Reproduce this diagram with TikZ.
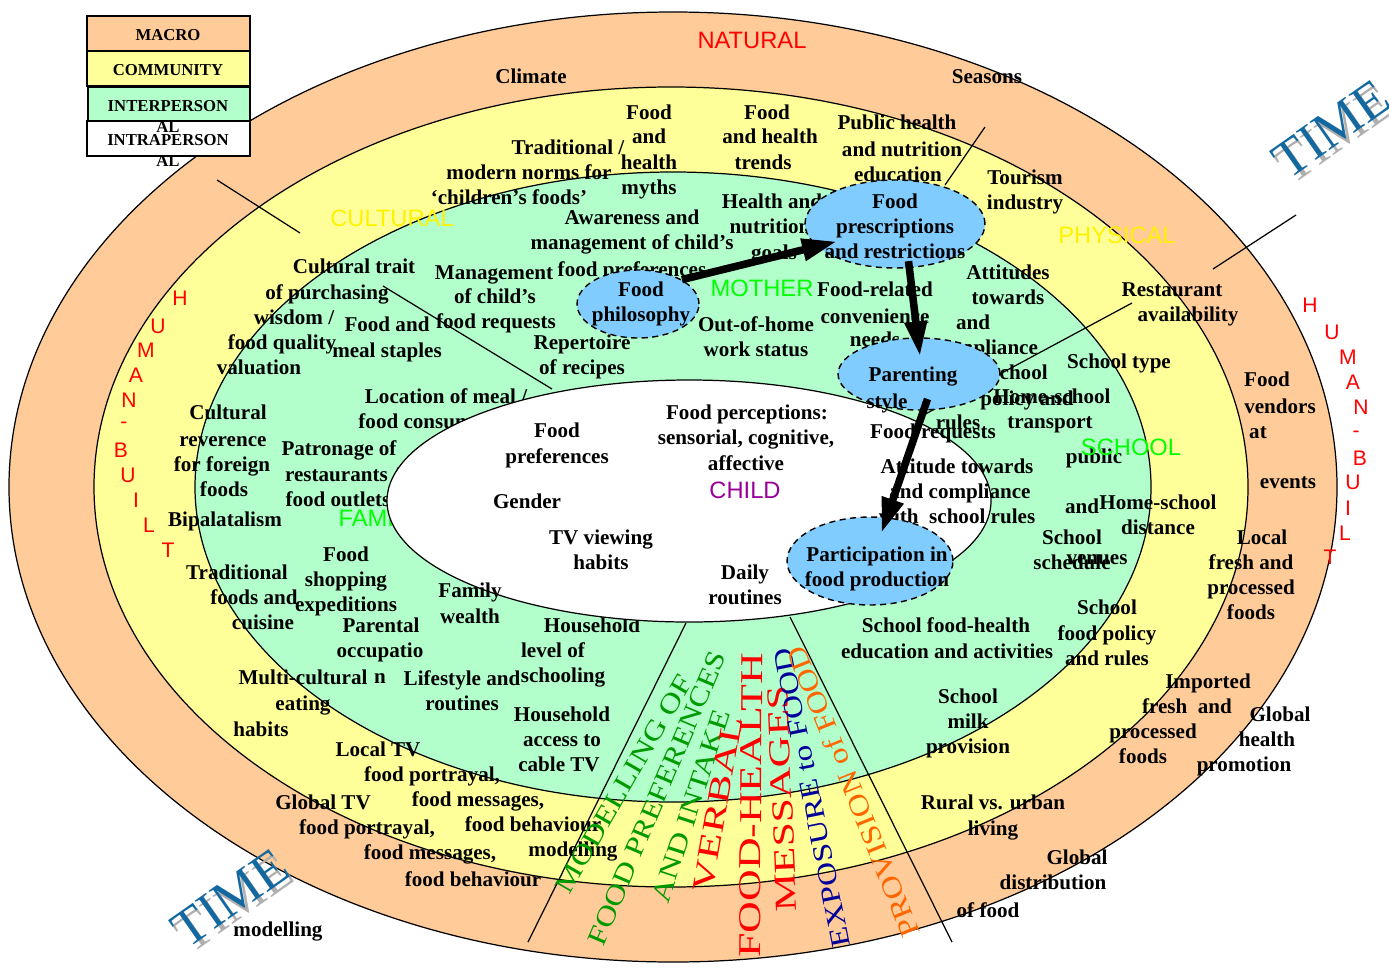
\documentclass[tikz,border=0pt]{standalone}
\usepackage{graphicx}
\usepackage{fontspec}
\setmainfont{Liberation Serif}
\setsansfont{Liberation Sans}
\usetikzlibrary{positioning,shapes.geometric,arrows.meta}

\definecolor{macro}{RGB}{255,204,153}
\definecolor{community}{RGB}{255,255,153}
\definecolor{interp}{RGB}{179,255,204}
\definecolor{blobfill}{RGB}{128,204,255}
\definecolor{tagreen}{RGB}{0,255,0}
\definecolor{childtag}{RGB}{153,0,153}
\definecolor{fgreen}{RGB}{0,153,0}
\definecolor{fblue}{RGB}{0,0,153}
\definecolor{forange}{RGB}{255,102,0}
\definecolor{timeblue}{RGB}{20,104,160}
\definecolor{timeshade}{RGB}{175,175,175}

\tikzset{
  ring/.style={draw=black, line width=0.7pt},
  lbl/.style={font=\bfseries\fontsize{12}{14}\selectfont, inner sep=0pt, text height=9pt, text depth=2pt},
  tag/.style={font=\sffamily\fontsize{13.5}{16}\selectfont, inner sep=0pt},
  hb/.style={font=\sffamily\fontsize{12}{14}\selectfont, text=red, inner sep=0pt},
  leg/.style={font=\bfseries\fontsize{9.5}{12}\selectfont, align=center, inner sep=0pt},
  legbox/.style={draw=black, line width=1pt},
  blob/.style 2 args={ellipse, draw=black, fill=blobfill, line width=0.8pt,
    dash pattern=on 3.5pt off 2.5pt, inner sep=0pt,
    minimum width=#1*0.04cm, minimum height=#2*0.04cm},
  push/.style={line width=4.3pt, -{Triangle[length=20pt,width=12pt]}},
  sector/.style={draw=black, line width=0.7pt},
  timetxt/.style={font=\fontsize{30}{30}\selectfont, inner sep=0pt, rotate=35}
}

% one line of the fan of mechanisms: name, x, y, angle, colour, width, height, text
\newcommand{\fanline}[8]{
  \node[text=#5, rotate=#4, inner sep=0pt] (#1) at (#2,#3) {\resizebox{#6pt}{#7pt}{#8}};
}

\begin{document}
\begin{tikzpicture}[x=0.02cm, y=-0.02cm]
\useasboundingbox (0,0) rectangle (1389,967);
\fill[white] (0,0) rectangle (1389,967);

% the levels
\filldraw[ring, fill=macro] (673,487) ellipse [x radius=664, y radius=475];
\filldraw[ring, fill=community] (671,487) ellipse [x radius=577, y radius=400];
\filldraw[ring, fill=interp] (673,487) ellipse [x radius=478, y radius=315];

% macro, community and interpersonal factors
\foreach \x/\y/\txt [count=\i] in {
  531/77/Climate, 987/77/Seasons,
  1267/380/Food, 1280/407/vendors, 1258/432/at, 1288/482/events,
  1262/538/Local, 1251/563/fresh and, 1251/588/processed, 1251/613/foods,
  1280/715/Global, 1267/740/health, 1244/765/promotion,
  1077/858/Global, 1053/883/distribution, 988/911/of food,
  323/803/Global TV, 367/828/{food portrayal,}, 430/853/{food messages,},
  473/880/food behaviour, 278/930/modelling,
  1208/682/Imported, 1187/707/fresh~~and, 1153/732/processed, 1143/757/foods,
  568/148/{Traditional /}, 529/173/modern norms for, 509/198/‘children’s foods’,
  649/113/Food, 649/137/and, 649/163/health, 649/188/myths,
  767/113/Food, 770/137/and health, 763/163/trends,
  897/123/Public health, 902/150/and nutrition, 898/175/education,
  1025/178/Tourism, 1025/203/industry,
  1172/290/Restaurant, 1188/315/availability,
  1119/362/School type,
  1158/503/Home-school, 1158/528/distance,
  1107/608/School, 1107/634/food policy, 1107/659/and rules,
  993/803/Rural vs. urban, 993/829/living,
  378/750/Local TV, 432/775/{food portrayal,}, 478/800/{food messages,},
  533/825/food behaviour, 573/850/modelling,
  303/678/Multi-cultural, 303/704/eating, 261/730/habits,
  237/573/Traditional, 254/598/foods and, 263/623/cuisine,
  225/520/Bipalatalism,
  228/413/Cultural, 223/440/reverence, 222/465/for foreign, 224/490/foods,
  354/267/Cultural trait, 327/293/of purchasing, 294/318/{wisdom /},
  282/343/food quality, 259/368/valuation,
  632/218/Awareness and, 632/243/management of child’s, 632/270/food preferences,
  494/273/Management, 495/297/of child’s, 496/322/food requests,
  387/325/Food and, 387/351/meal staples,
  582/343/Repertoire, 582/368/of recipes,
  446/397/{Location of meal /}, 439/422/food consumption,
  339/449/Patronage of, 342/475/{restaurants /}, 338/500/food outlets,
  346/555/Food, 346/580/shopping, 346/605/expeditions,
  381/626/Parental, 380/651/occupatio, 380/677/n,
  462/679/Lifestyle and, 462/704/routines,
  592/626/Household, 553/651/level of, 563/676/schooling,
  562/715/Household, 562/740/access to, 559/765/cable TV,
  772/202/Health and, 770/227/nutrition, 774/253/goals,
  756/325/Out-of-home, 756/350/work status,
  875/290/Food-related, 875/317/convenience, 875/340/needs,
  1008/273/Attitudes, 1008/298/towards, 973/323/and, 987/348/compliance,
  997/373/with school, 1027/399/policy and, 958/423/rules,
  1052/397/Home-school, 1050/422/transport,
  1094/457/public, 1082/507/and,
  1072/538/School, 1072/563/schedule, 1097/558/venues,
  946/626/School food-health, 947/652/education and activities,
  968/697/School, 968/722/milk, 968/747/provision}
  \node[lbl] (a\i) at (\x,\y) {\txt};

\node[tag, text=red] (natural) at (752,40) {NATURAL};
\node[tag, text=yellow] (cultural) at (392,218) {CULTURAL};
\node[tag, text=yellow] (physical) at (1117,235) {PHYSICAL};
\node[tag, text=tagreen] (mother) at (762,288) {MOTHER};
\node[tag, text=tagreen] (family) at (380,518) {FAMILY};
\node[tag, text=tagreen] (school) at (1131,447) {SCHOOL};

% the child
\filldraw[ring, fill=white] (689,501) ellipse [x radius=302, y radius=121];

% sector borders
\draw[sector] (217,180) -- (300,233);
\draw[sector] (383,286) -- (552,389);
\draw[sector] (985,127) -- (945,185);
\draw[sector] (1296,215) -- (1213,269);
\draw[sector] (1132,303) -- (918,418);
\draw[sector] (528,942) -- (686,623);
\draw[sector] (952,942) -- (790,617);

\foreach \x/\y/\txt [count=\i] in {
  557/431/Food, 557/457/preferences,
  747/413/Food perceptions:, 746/438/{sensorial, cognitive,}, 746/464/affective,
  527/502/Gender, 601/538/TV viewing, 601/563/habits,
  745/573/Daily, 745/598/routines,
  470/591/Family, 470/617/wealth,
  933/432/Food requests,
  957/467/Attitude towards, 960/492/and compliance, 957/517/with~~school rules}
  \node[lbl] (b\i) at (\x,\y) {\txt};
\node[tag, text=childtag] (child) at (745,490) {CHILD};

% mother-to-child pathway
\node[blob={61}{34}] (phil) at (638,304) {};
\node[blob={90}{44}] (presc) at (895,224) {};
\node[blob={81}{36}] (parent) at (919,374) {};
\node[blob={83}{44}] (part) at (870,561) {};

\foreach \x/\y/\txt [count=\i] in {
  641/290/Food, 641/315/philosophy,
  895/202/Food, 895/227/prescriptions, 895/252/and restrictions,
  913/375/Parenting, 887/402/style,
  877/555/Participation in, 877/580/food production}
  \node[lbl] (c\i) at (\x,\y) {\txt};

\draw[push, shorten >=-12pt] (phil.29) -- (presc.196);
\draw[push, shorten <=-4pt, shorten >=-11pt] (presc.288) -- (parent.92);
\draw[push, shorten <=-7pt, shorten >=-9.5pt] (parent.277) -- (part.69);

% mechanisms
\fanline{f1}{624}{784}{60}{fgreen}{140.6}{10.2}{MODELLING OF}
\fanline{f2}{657}{798}{67}{fgreen}{180}{10.2}{FOOD PREFERENCES}
\fanline{f3}{691}{806}{72}{fgreen}{114.5}{10.2}{AND INTAKE}
\fanline{f4}{718}{804}{80}{red}{101}{11.5}{VERBAL}
\fanline{f5}{751}{805}{89.6}{red}{173.5}{12}{FOOD-HEALTH}
\fanline{f6}{782}{799}{92.5}{red}{129}{11.5}{MESSAGES}
\fanline{f7}{812}{798}{101.3}{fblue}{173.5}{10.2}{EXPOSURE to FOOD}
\fanline{f8}{853}{792}{112}{forange}{177.5}{11.3}{PROVISION of FOOD}

% human-built, both sides
\foreach \c/\x/\y [count=\i] in {H/180/298, U/158/326, M/146/350, A/136/375,
  N/129/400, -/124/425, B/121/450, U/128/475, I/136/500, L/149/525, T/168/550}
  \node[hb] (hl\i) at (\x,\y) {\c};
\foreach \c/\x/\y [count=\i] in {H/1310/305, U/1332/332, M/1348/357, A/1353/382,
  N/1361/407, -/1356/434, B/1360/458, U/1353/482, I/1348/508, L/1345/533, T/1330/557}
  \node[hb] (hr\i) at (\x,\y) {\c};

% time
\node[timetxt, text=timeshade] (time1s) at (1335,134) {TIME};
\node[timetxt, text=timeblue] (time1) at (1331,129) {TIME};
\node[timetxt, text=timeshade] (time2s) at (234,903) {TIME};
\node[timetxt, text=timeblue] (time2) at (230,898) {TIME};

% legend
\filldraw[legbox, fill=macro] (87,16) rectangle (250,51);
\filldraw[legbox, fill=community] (87,51) rectangle (250,86);
\filldraw[legbox, fill=interp] (88,87) rectangle (250,121);
\filldraw[legbox, fill=white] (87,121) rectangle (250,156);
\node[leg] (lmacro) at (168,35) {MACRO};
\node[leg] (lcomm) at (168,70) {COMMUNITY};
\node[leg] (linter) at (168,116.5) {INTERPERSON\\AL};
\node[leg] (lintra) at (168,150.5) {INTRAPERSON\\AL};
\end{tikzpicture}
\end{document}
